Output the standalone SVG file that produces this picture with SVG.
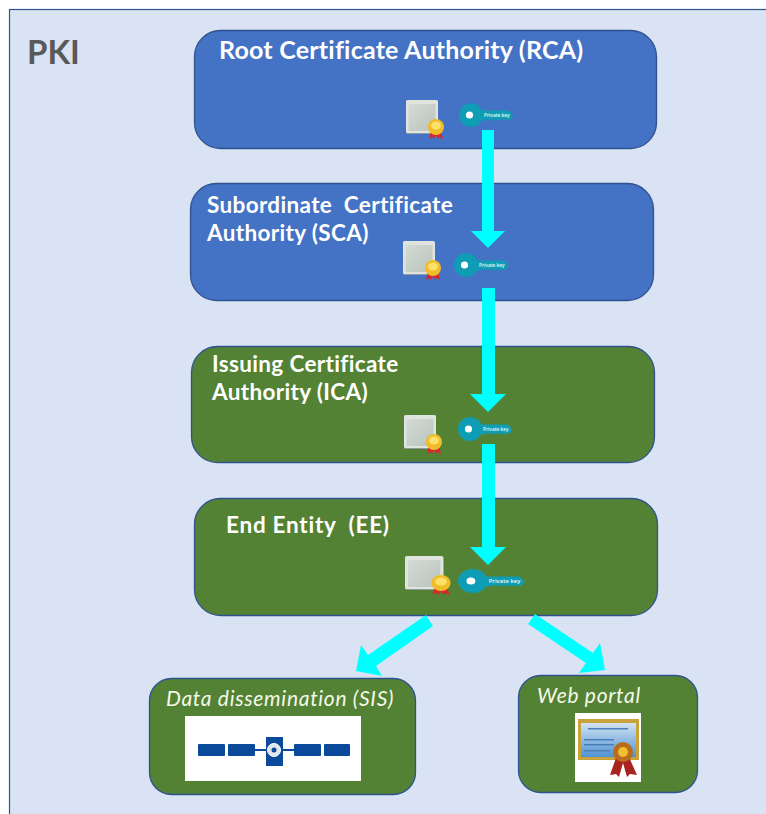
<svg xmlns="http://www.w3.org/2000/svg" width="766" height="814" viewBox="0 0 766 814">
<style>
.box{stroke:#2f528f;stroke-width:1.3}
.blue{fill:#4472c4}
.green{fill:#548235}
.t{font-family:"Lato","Open Sans",sans-serif;font-weight:700;font-size:22.500px;letter-spacing:.35px;fill:#fff}
.i{font-family:"Lato","Open Sans",sans-serif;font-style:italic;font-size:21px;letter-spacing:.7px;fill:#f4f8e8}
.k{font-family:"Open Sans","Liberation Sans",sans-serif;font-size:4.800px;font-weight:600;fill:#e8f8fa}
.arrow{fill:#00ffff}
</style>
<defs>
<linearGradient id="paper" x1="0" y1="0" x2="1" y2="1"><stop offset="0" stop-color="#d5dbd6"/><stop offset="1" stop-color="#b9c3bc"/></linearGradient>
<linearGradient id="sky" x1="0" y1="0" x2="0" y2="1"><stop offset="0" stop-color="#d3e3f3"/><stop offset="1" stop-color="#4f93d3"/></linearGradient>
<g id="cert">
<rect x="0" y="1" width="32" height="33" rx="1.500" fill="#8f9a9c"/>
<rect x="0" y="0" width="32" height="33" rx="1.500" fill="#dfe4df"/>
<rect x="2.500" y="4" width="27" height="27" fill="url(#paper)"/>
<path d="M25 31h10l2 8-3.500-2-1.500 2-2-4-2 4-1.500-2-3.500 2z" fill="#d9262c"/>
<circle cx="30" cy="27" r="8" fill="#f0bd28"/>
<ellipse cx="30" cy="25.500" rx="5" ry="4" fill="#fbe06a"/>
</g>
<g id="key">
<circle cx="12" cy="12" r="12" fill="#0e9db4"/>
<path d="M20 7.500h30l4.500 5-3.500 5-2.500-1.500-2.500 1.500-2.500-1.500-2.500 1.500-2.500-1.500-2.500 1.500-2.500-1.500-2.500 1.500-2.500-1.500-2.500 1.500h-8z" fill="#0e9db4"/>
<circle cx="10.500" cy="12" r="3.600" fill="#fff"/>
<text class="k" x="25" y="13.800">Private key</text>
</g>
</defs>
<rect width="766" height="814" fill="#fff"/>
<rect id="panel" x="9.500" y="9.500" width="780" height="830" fill="#dae3f3" stroke="#2f528f" stroke-width="1.200"/>
<text id="pki" x="27" y="64" font-family="Lato,'Open Sans',sans-serif" font-weight="700" font-size="33" fill="#595959">PKI</text>

<g id="rca">
<rect class="box blue" x="194.500" y="30.500" width="462" height="118" rx="26"/>
<text class="t" x="219" y="59" style="font-size:25px;letter-spacing:.22px">Root Certificate Authority (RCA)</text>
<use href="#cert" x="406" y="100"/>
<use href="#key" x="459" y="103"/>
</g>
<g id="sca">
<rect class="box blue" x="190.500" y="183.500" width="463" height="117" rx="26"/>
<text class="t" x="207" y="212.500" xml:space="preserve">Subordinate  Certificate</text>
<text class="t" x="207" y="240.500">Authority (SCA)</text>
<use href="#cert" x="403" y="241"/>
<use href="#key" x="454" y="253"/>
</g>
<g id="ica">
<rect class="box green" x="191.500" y="346.500" width="463" height="116" rx="26"/>
<text class="t" x="212" y="371.500">Issuing Certificate</text>
<text class="t" x="212" y="399.500">Authority (ICA)</text>
<use href="#cert" x="404" y="415"/>
<use href="#key" x="458" y="417"/>
</g>
<g id="ee">
<rect class="box green" x="194.500" y="498.500" width="463" height="117" rx="26"/>
<text class="t" x="226" y="532.500" xml:space="preserve" style="letter-spacing:.75px">End Entity  (EE)</text>
<use href="#cert" transform="translate(405 556) scale(1.200 1)"/>
<use href="#key" transform="translate(458 569) scale(1.230 1)"/>
</g>
<g id="sis">
<rect class="box green" x="149.500" y="678.500" width="266" height="116" rx="22"/>
<text class="i" x="166" y="705.500">Data dissemination (SIS)</text>
<rect x="185" y="716" width="176" height="65" fill="#fff"/>
<g fill="#0b4a9a">
<rect x="198" y="744" width="27" height="12" rx="1"/>
<rect x="228" y="744" width="27" height="12" rx="1"/>
<rect x="294" y="744" width="27" height="12" rx="1"/>
<rect x="324" y="744" width="26" height="12" rx="1"/>
<rect x="255" y="749" width="39" height="2"/>
<rect x="266" y="737" width="17" height="29"/>
</g>
<circle cx="274" cy="750" r="6.500" fill="#dfe6ee" stroke="#fff"/>
<circle cx="274" cy="750" r="2.500" fill="#0b4a9a"/>
</g>
<g id="web">
<rect class="box green" x="518.500" y="675.500" width="179" height="117" rx="22"/>
<text class="i" x="537" y="702.500">Web portal</text>
<rect x="575" y="713" width="66" height="69" fill="#fff"/>
<rect x="578" y="719" width="61" height="41" fill="#c9a23a"/>
<rect x="581" y="723" width="55" height="34" fill="url(#sky)"/>
<g fill="#4a7fb5">
<rect x="588" y="728" width="40" height="1.500"/>
<rect x="584" y="739" width="30" height="1.500"/>
<rect x="584" y="744" width="30" height="1.500"/>
<rect x="584" y="750" width="26" height="1.500"/>
</g>
<path d="M617 755l-7 20 6-1 3 3 4-14 4 14 3-3 7 1-9-20z" fill="#a82420"/>
<circle cx="623" cy="752" r="10" fill="#b86d1e"/>
<circle cx="623" cy="752" r="5" fill="#f0c030"/>
</g>
<g id="connectors">
<path class="arrow" d="M482 130h12V231h11L488 248 471 231h11z"/>
<path class="arrow" d="M482 288h13V394h11L488 412 470 394h12z"/>
<path class="arrow" d="M482 444h13V547h11L488 565 470 547h12z"/>
<path class="arrow" d="M426 615L433 626 376 666 382 676 356 671 361 645 368 655z"/>
<path class="arrow" d="M535 614L593 653 600 643 605 670 579 673 586 663 528 624z"/>
</g>
</svg>
